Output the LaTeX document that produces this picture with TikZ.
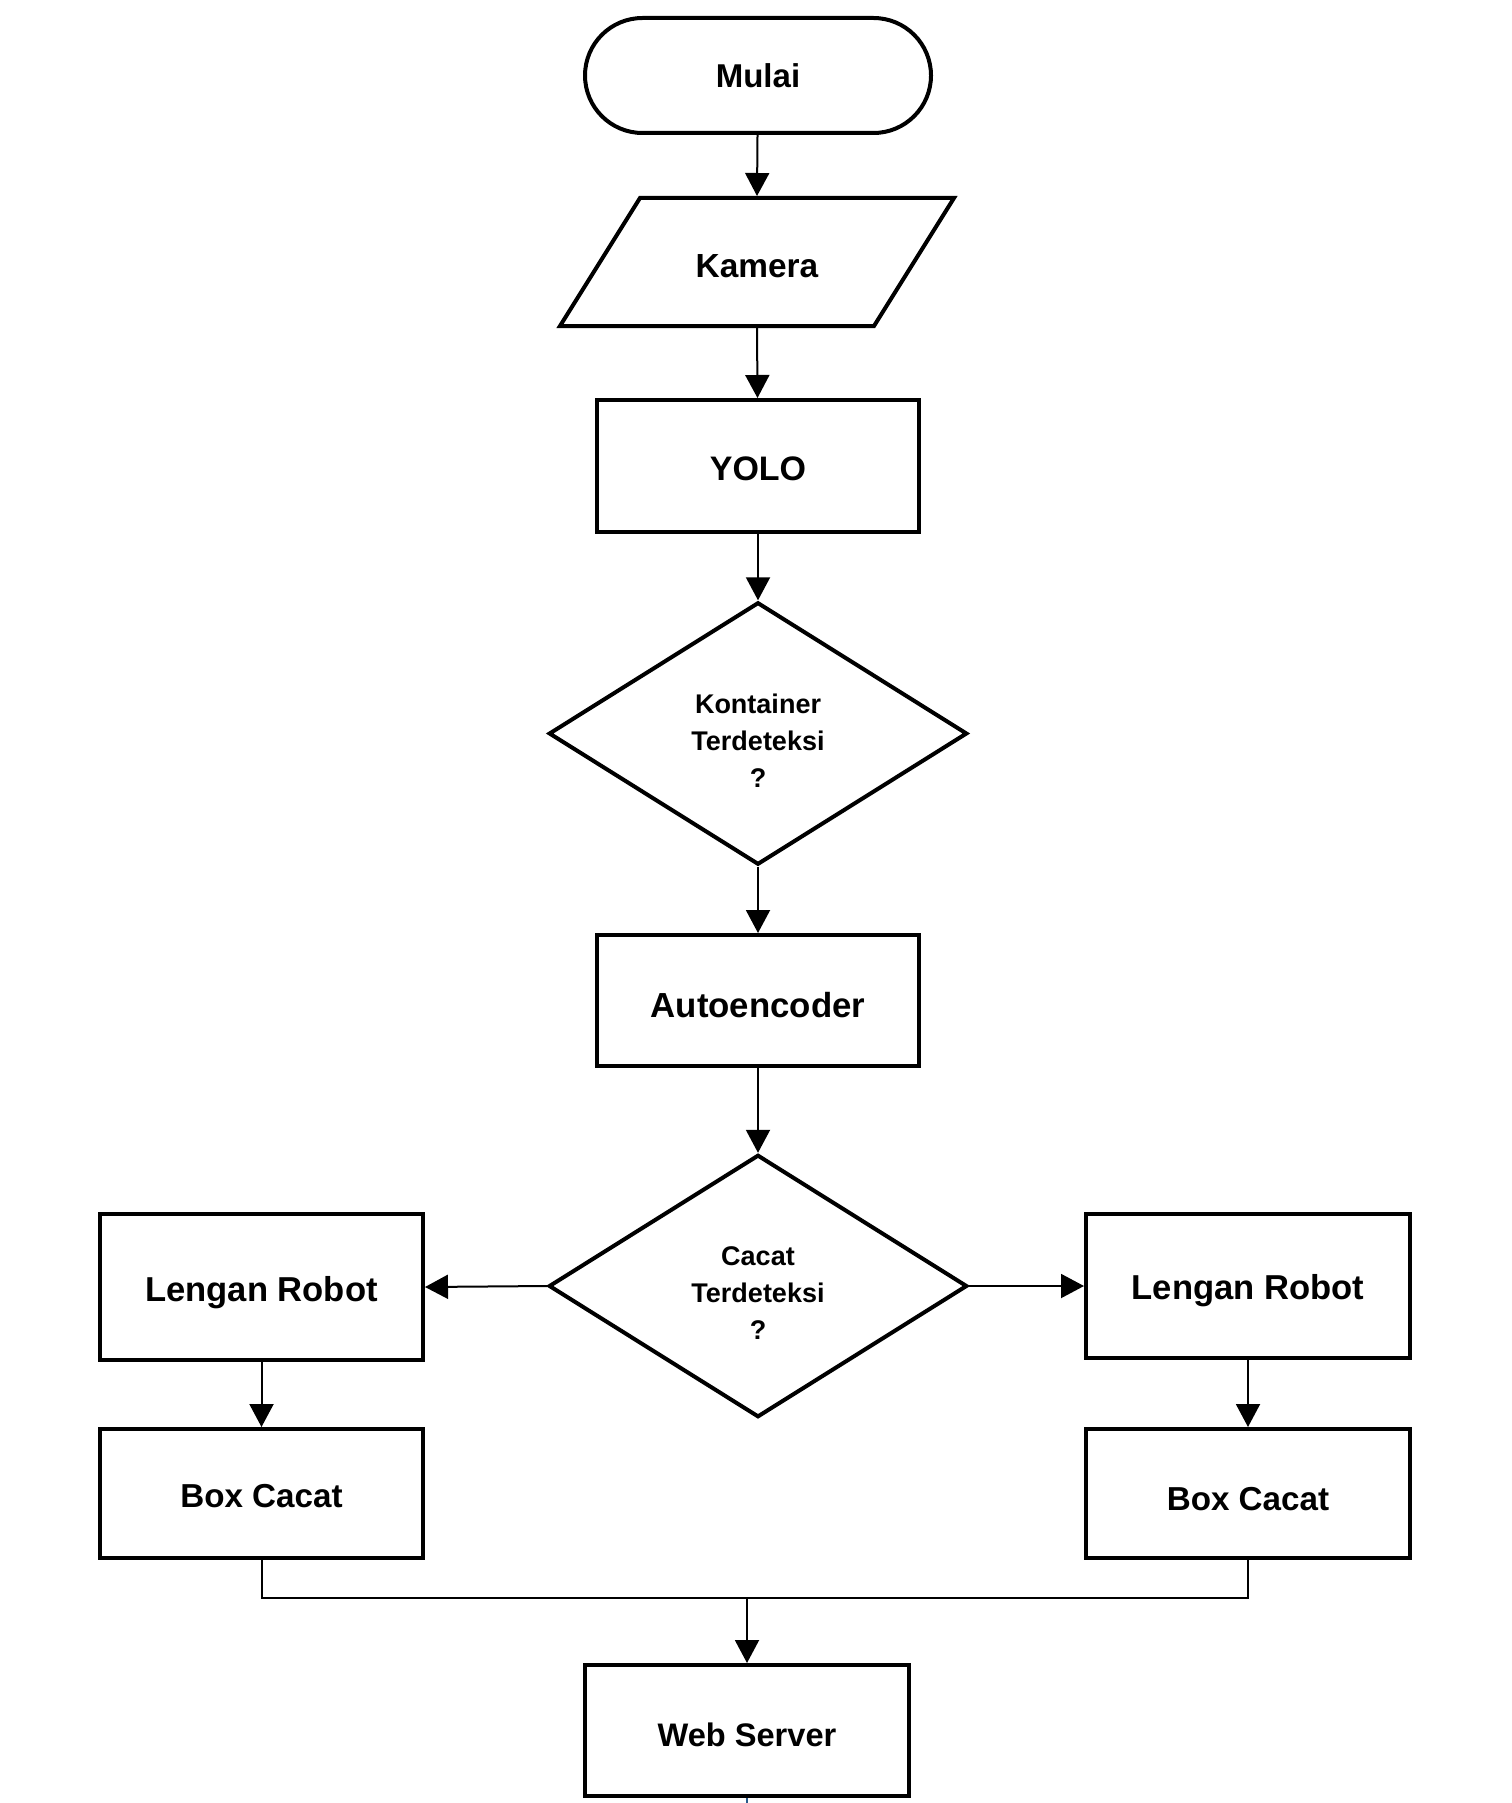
\documentclass[tikz,border=0pt]{standalone}
\usepackage{fontspec}
\setmainfont{Liberation Sans}
\usetikzlibrary{shapes.geometric,arrows.meta,calc}
\definecolor{stubblue}{RGB}{40,90,140}
\begin{document}
\begin{tikzpicture}[x=0.5pt,y=-0.5pt,
  shp/.style={draw, line width=2pt, text depth=0pt},
  procbox/.style={shp, rectangle, minimum width=161pt, minimum height=66pt},
  termbox/.style={shp, rectangle, rounded corners=28.75pt, minimum width=173pt, minimum height=57.5pt},
  decbox/.style={shp, diamond, aspect=1.6, inner sep=0pt, minimum width=209.2pt, minimum height=131.2pt},
  dectext/.style={align=center, yshift=-3.5pt, font=\bfseries\fontsize{13.5}{18.5}\selectfont},
  conn/.style={line width=1pt, -{Triangle[length=11.5pt,width=12pt]}},
  wire/.style={line width=1pt},
  stub/.style={line width=0.6pt, draw=stubblue}]
\fill[white] (0,0) rectangle (1511,1803);
\useasboundingbox (0,0) rectangle (1511,1803);

% nodes
\node[termbox, font=\bfseries\fontsize{16.5}{20}\selectfont, text height=11.8pt] (mulai) at (758,75.5) {Mulai};
\node[shp, draw=none, minimum width=157pt, minimum height=64pt,
      font=\bfseries\fontsize{16.7}{20}\selectfont, text height=16pt] (kam) at (757,262) {Kamera};
\draw[line width=2pt] ($(kam.center)+(-117,-64)$) -- ($(kam.center)+(197,-64)$)
   -- ($(kam.center)+(117,64)$) -- ($(kam.center)+(-197,64)$) -- cycle;
\node[procbox, font=\bfseries\fontsize{17}{20}\selectfont, text height=14.2pt] (yolo) at (758,466) {YOLO};
\node[decbox, label={[name=dec1t, dectext]center:Kontainer\\Terdeteksi\\?}] (dec1) at (758,733.5) {};
\node[procbox, minimum height=65.5pt, font=\bfseries\fontsize{17.4}{20}\selectfont, text height=17pt] (auto) at (758,1000.5) {Autoencoder};
\node[decbox, label={[name=dec2t, dectext]center:Cacat\\Terdeteksi\\?}] (dec2) at (758,1286) {};
\node[procbox, minimum width=161.5pt, minimum height=73pt, font=\bfseries\fontsize{17.3}{20}\selectfont, text height=14.4pt] (lrL) at (261.5,1287) {Lengan Robot};
\node[procbox, minimum width=162pt, minimum height=72pt, font=\bfseries\fontsize{17.3}{20}\selectfont, text height=13.4pt] (lrR) at (1248,1286) {Lengan Robot};
\node[procbox, minimum width=161.5pt, minimum height=64.5pt, font=\bfseries\fontsize{16.6}{20}\selectfont, text height=14.4pt] (bcL) at (261.5,1493.5) {Box Cacat};
\node[procbox, minimum width=162pt, minimum height=64.5pt, font=\bfseries\fontsize{16.6}{20}\selectfont, text height=17.4pt] (bcR) at (1248,1493.5) {Box Cacat};
\node[procbox, minimum width=162pt, minimum height=65.5pt, font=\bfseries\fontsize{16.3}{20}\selectfont, text height=16pt] (ws) at (747,1730.5) {Web Server};

% connectors
\draw[conn] (mulai) -- (kam.north);
\draw[conn] (kam.south) -- (yolo);
\draw[conn] (yolo) -- (dec1);
\draw[conn] (dec1) -- (auto);
\draw[conn] (auto) -- (dec2);
\draw[conn] (dec2.west) -- (lrL.east);
\draw[conn] (dec2.east) -- (lrR.west);
\draw[conn] (lrL) -- (bcL);
\draw[conn] (lrR) -- (bcR);
\coordinate (j) at (747,1598);
\draw[wire] (bcL.south) |- (j) -| (bcR.south);
\draw[conn] (j) -- (ws);
\coordinate (stubend) at (747,1803);
\draw[stub] (ws.south) -- (stubend);
\end{tikzpicture}
\end{document}
